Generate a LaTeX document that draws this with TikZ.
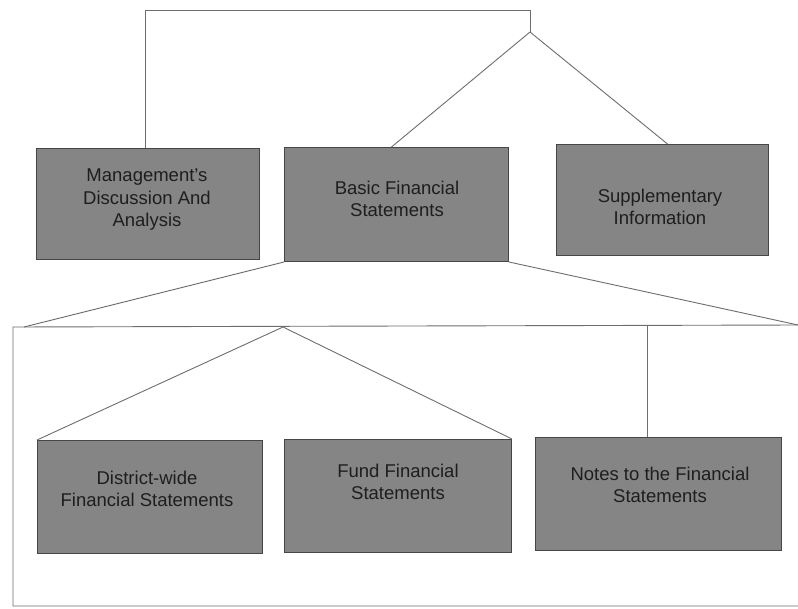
\documentclass[tikz,border=0pt]{standalone}
\usepackage{fontspec}
\setmainfont{Liberation Sans}
\usetikzlibrary{calc}
\definecolor{boxfill}{RGB}{133,133,133}
\definecolor{boxline}{RGB}{70,70,70}
\definecolor{conn}{RGB}{110,110,110}
\definecolor{txt}{RGB}{30,30,30}
\begin{document}
\begin{tikzpicture}[x=1pt,y=-1pt,
  fbox/.style={draw=boxline,fill=boxfill,line width=1pt,inner sep=0pt,
    minimum width=#1,anchor=north west},
  lbl/.style={text=txt,align=center,font=\fontsize{18.5}{22.5}\selectfont,inner sep=0pt},
  link/.style={draw=conn,line width=0.9pt}]
\useasboundingbox[fill=white] (0,0) rectangle (798,608);
% top level boxes
\node[fbox=223pt,minimum height=111pt] (mda) at (36,148) {};
\node[fbox=224pt,minimum height=114pt] (bfs) at (284,147) {};
\node[fbox=212pt,minimum height=111pt] (sup) at (556,144) {};
\node[lbl] (tmda) at (147,200) {Management's\\Discussion And\\Analysis};
\node[lbl] (tbfs) at (397,199) {Basic Financial\\Statements};
\node[lbl] (tsup) at (660,207) {Supplementary\\Information};
% top connectors
\coordinate (j1) at (530,32);
\coordinate (tl) at (145,10);
\coordinate (tr) at (530,10);
\draw[link] (mda.north -| tl) -- (tl) -- (tr) -- (j1);
\draw[link] (j1) -- ([xshift=-5pt]bfs.north);
\draw[link] (j1) -- ([xshift=5pt]sup.north);
% lower frame
\coordinate (fl) at (13,327);
\coordinate (fr) at (798,325);
\coordinate (bl) at (13,606);
\coordinate (br) at (798,606);
\draw[link] (fr) -- (fl) -- (bl) -- (br);
\coordinate (e1) at (24,327);
\draw[link] (bfs.south west) -- (e1);
\draw[link] (bfs.south east) -- (fr);
% lower boxes
\node[fbox=225pt,minimum height=113pt] (dfs) at (37,440) {};
\node[fbox=227pt,minimum height=113pt] (fund) at (284,439) {};
\node[fbox=246pt,minimum height=113pt] (notes) at (535,437) {};
\node[lbl] (tdfs) at (147,489) {District-wide\\Financial Statements};
\node[lbl] (tfund) at (398,482) {Fund Financial\\Statements};
\node[lbl] (tnotes) at (660,485) {Notes to the Financial\\Statements};
% lower connectors
\coordinate (j2) at (283,327);
\draw[link] (j2) -- (dfs.north west);
\draw[link] (j2) -- (fund.north east);
\coordinate (j3) at (647,326);
\draw[link] (j3) -- (j3 |- notes.north);
\end{tikzpicture}
\end{document}
